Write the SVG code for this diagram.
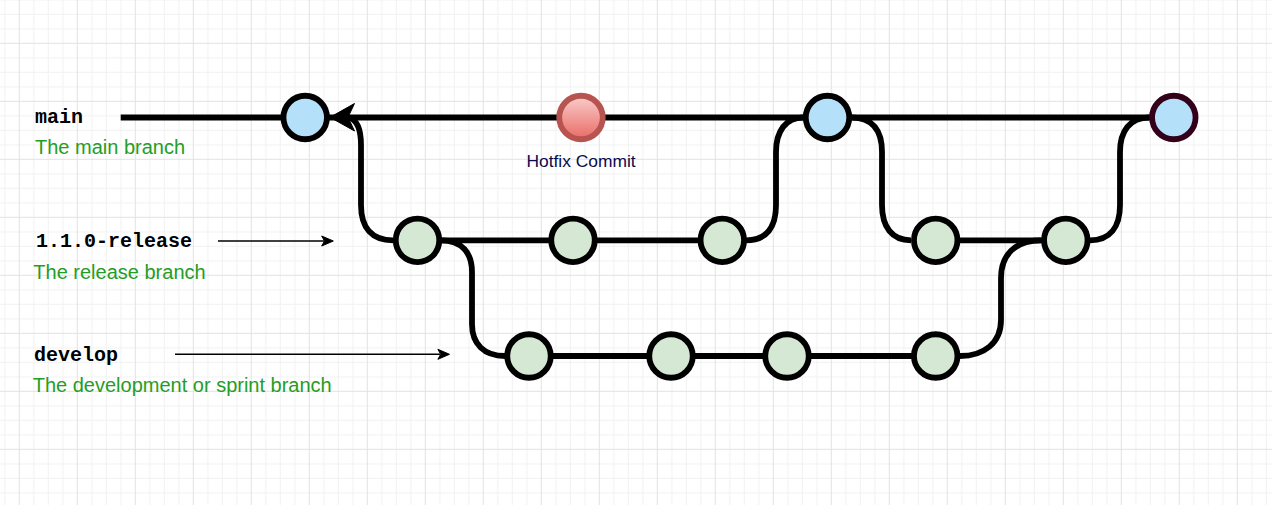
<svg xmlns="http://www.w3.org/2000/svg" width="1272" height="505" viewBox="0 0 1272 505">
<style>
.node{stroke:#000;stroke-width:5.8}
.rel{fill:#d5e8d4}
.blue{fill:#b5e0f9}
.conn{fill:none;stroke:#000;stroke-width:5.8}
.thin{fill:none;stroke:#000;stroke-width:1.5}
.branch{font-family:"Liberation Mono","Courier New",monospace;font-weight:bold;font-size:20px;fill:#000}
.desc{font-family:"Liberation Sans",Arial,sans-serif;font-size:20px;fill:#259d25}
.note{font-family:"Liberation Sans",Arial,sans-serif;font-size:17.4px;fill:#0a0a50}
</style>
<defs>
<pattern id="grid" width="58" height="58" patternUnits="userSpaceOnUse" x="18.8" y="42.8">
<path d="M15 0V58M29.5 0V58M44 0V58M0 15H58M0 29.5H58M0 44H58" stroke="#f1f1f1" stroke-width="1" fill="none"/>
<path d="M0.5 0V58M0 0.5H58" stroke="#e2e2e2" stroke-width="1" fill="none"/>
</pattern>
<linearGradient id="red" x1="0" y1="0" x2="0" y2="1">
<stop offset="0" stop-color="#f8cecc"/>
<stop offset="1" stop-color="#ea6b66"/>
</linearGradient>
</defs>
<rect width="1272" height="505" fill="#fff"/>
<rect width="1272" height="505" fill="url(#grid)"/>

<g id="labels">
<text class="branch" x="35" y="122.7">main</text>
<text class="desc" x="35" y="154.3">The main branch</text>
<text class="branch" x="36" y="247">1.1.0-release</text>
<text class="desc" x="33.3" y="278.5">The release branch</text>
<text class="branch" x="34" y="360.5">develop</text>
<text class="desc" x="32.7" y="391.7">The development or sprint branch</text>
<text class="note" x="581" y="166.7" text-anchor="middle">Hotfix Commit</text>
</g>

<g id="connectors">
<path class="conn" d="M120.7 117.5H1150"/>
<path class="conn" d="M417.5 240.3H722.3M935.7 240.3H1065.8"/>
<path class="conn" d="M529 356H935.7"/>
<path class="conn" d="M393 240.3C372 240.3 361 228 361 205L361 145C361 128 357 120 349 117.5"/>
<polygon points="330,117.3 354.5,103.5 348,117.3 354.5,131" fill="#000" stroke="#000" stroke-width="1"/>
<path class="conn" d="M441 240.3C462 240.3 472 253 472 272L472 324C472 344 484 356 505 356"/>
<path class="conn" d="M746 240.3C767 240.3 776 227 776 205L776 152C776 131 786 117.5 803 117.5"/>
<path class="conn" d="M852 117.5C873 117.5 882 131 882 152L882 205C882 227 892 240.3 911 240.3"/>
<path class="conn" d="M960 356C984 356 1001 343 1001 320L1001 278C1001 255 1015 240.3 1041 240.3"/>
<path class="conn" d="M1090 240.3C1110 240.3 1120 227 1120 205L1120 152C1120 131 1130 117.5 1149 117.5"/>
<path class="thin" d="M218 241H324"/>
<polygon points="333.3,241 321.7,236 324.5,241 321.7,246" fill="#000" stroke="#000" stroke-width="1"/>
<path class="thin" d="M175 354.3H440"/>
<polygon points="449.5,354.3 437.9,349.3 440.7,354.3 437.9,359.3" fill="#000" stroke="#000" stroke-width="1"/>
</g>

<g id="main-1"><circle class="node blue" cx="305.2" cy="117.5" r="21.75"/></g>
<g id="hotfix"><circle cx="581" cy="117.5" r="21.75" fill="url(#red)" stroke="#b85450" stroke-width="5.8"/></g>
<g id="main-2"><circle class="node blue" cx="827.5" cy="117.5" r="21.75"/></g>
<g id="main-3"><circle cx="1173.8" cy="117.5" r="21.75" class="blue" stroke="#33001a" stroke-width="5.8"/></g>

<g id="release-1"><circle class="node rel" cx="417.5" cy="240.3" r="21.75"/></g>
<g id="release-2"><circle class="node rel" cx="573" cy="240.3" r="21.75"/></g>
<g id="release-3"><circle class="node rel" cx="722.3" cy="240.3" r="21.75"/></g>
<g id="release-4"><circle class="node rel" cx="935.7" cy="240.3" r="21.75"/></g>
<g id="release-5"><circle class="node rel" cx="1065.8" cy="240.3" r="21.75"/></g>

<g id="develop-1"><circle class="node rel" cx="529" cy="356" r="21.75"/></g>
<g id="develop-2"><circle class="node rel" cx="671" cy="356" r="21.75"/></g>
<g id="develop-3"><circle class="node rel" cx="787" cy="356" r="21.75"/></g>
<g id="develop-4"><circle class="node rel" cx="935.7" cy="356" r="21.75"/></g>
</svg>
